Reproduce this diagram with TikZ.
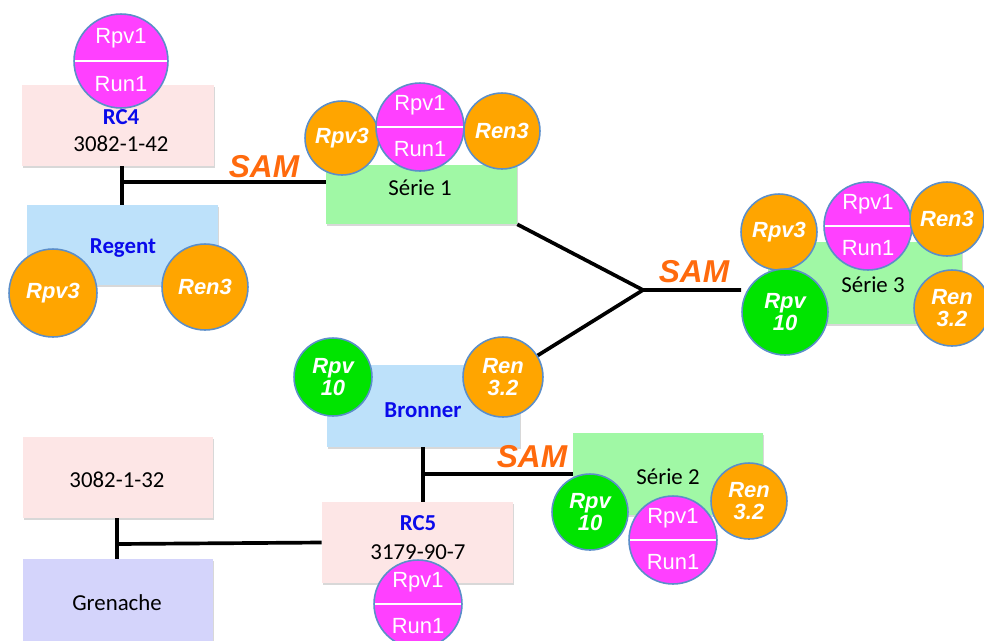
\documentclass[tikz,border=0pt]{standalone}
\usepackage{fontspec}
\setmainfont{Carlito}
\newfontfamily\arialf{Liberation Sans}
\usetikzlibrary{shadows}
\definecolor{pinkbox}{RGB}{253,230,230}
\definecolor{bluebox}{RGB}{189,225,250}
\definecolor{greenbox}{RGB}{160,248,165}
\definecolor{lavbox}{RGB}{212,212,251}
\definecolor{orng}{RGB}{255,165,0}
\definecolor{grn}{RGB}{0,228,0}
\definecolor{mgnt}{RGB}{255,64,255}
\definecolor{cborder}{RGB}{91,142,201}
\definecolor{samcol}{RGB}{255,106,13}
\definecolor{lblblue}{RGB}{10,10,235}
\pgfdeclarelayer{boxes}
\pgfdeclarelayer{links}
\pgfsetlayers{boxes,links,main}
\tikzset{
  box/.style={rectangle, draw=none, inner sep=0pt,
    drop shadow={shadow xshift=0.7pt, shadow yshift=-0.9pt, opacity=0.3}},
  boxtxt/.style={inner sep=0pt, font=\fontsize{13}{15}\selectfont, text=black},
  bluetxt/.style={inner sep=0pt, font=\fontsize{13}{15}\selectfont\bfseries, text=lblblue},
  circ/.style={circle, draw=cborder, line width=0.9pt, inner sep=0pt},
  orc/.style={circ, fill=orng, minimum size=#1*0.04cm, text=white, align=center,
    font=\arialf\bfseries\itshape\fontsize{12.5}{13}\selectfont},
  grc/.style={circ, fill=grn, minimum size=#1*0.04cm, text=white, align=center,
    font=\arialf\bfseries\itshape\fontsize{12.5}{13}\selectfont},
  magc/.style={circ, fill=mgnt, minimum size=#1*0.04cm},
  magtxt/.style={inner sep=0pt, text=white, font=\arialf\fontsize{12.5}{13}\selectfont},
  samlbl/.style={inner sep=0pt, text=samcol, font=\arialf\bfseries\itshape\fontsize{18}{20}\selectfont},
  link/.style={draw=black, line width=2.1pt}
}
\newcommand{\magcirc}[4]{%
  \node[magc=#4] (#1) at (#2,#3) {};
  \draw[white, line width=1.6pt] ([xshift=1pt]#1.west) -- ([xshift=-1pt]#1.east);
  \node[magtxt] (#1-a) at ([yshift=#4*0.0098cm]#1.center) {Rpv1};
  \node[magtxt] (#1-b) at ([yshift=-#4*0.0098cm]#1.center) {Run1};
}
\begin{document}
\begin{tikzpicture}[x=0.02cm, y=-0.02cm]
\useasboundingbox (0,0) rectangle (984,640);

% boxes
\begin{pgfonlayer}{boxes}
\fill[white] (0,0) rectangle (984,640);
\node[box, fill=pinkbox, minimum width=3.84cm, minimum height=1.62cm] (rc4) at (118,125.5) {};
\node[box, fill=bluebox, minimum width=3.82cm, minimum height=1.6cm] (regent) at (122.5,245) {};
\node[box, fill=greenbox, minimum width=3.82cm, minimum height=1.18cm] (serie1) at (421.5,194.5) {};
\node[box, fill=greenbox, minimum width=3.88cm, minimum height=1.64cm] (serie3) at (865,283) {};
\node[box, fill=bluebox, minimum width=3.86cm, minimum height=1.64cm] (bronner) at (423.5,406) {};
\node[box, fill=greenbox, minimum width=3.8cm, minimum height=1.64cm] (serie2) at (668,474) {};
\node[box, fill=pinkbox, minimum width=3.82cm, minimum height=1.62cm] (rc5) at (417.5,542.5) {};
\node[box, fill=pinkbox, minimum width=3.8cm, minimum height=1.62cm] (g32) at (118,477.5) {};
\node[box, fill=lavbox, minimum width=3.8cm, minimum height=1.82cm] (gren) at (118,604.5) {};
\end{pgfonlayer}

% box texts
\node[bluetxt] (rc4-a) at (121,117) {RC4};
\node[boxtxt] (rc4-b) at (121,144) {3082-1-42};
\node[bluetxt] (regent-t) at (123,248) {Regent};
\node[boxtxt] (serie1-t) at (420,188) {Série 1};
\node[boxtxt] (serie3-t) at (873,285) {Série 3};
\node[bluetxt] (bronner-t) at (423,410) {Bronner};
\node[boxtxt] (serie2-t) at (668,477) {Série 2};
\node[bluetxt] (rc5-a) at (418,523) {RC5};
\node[boxtxt] (rc5-b) at (418,552) {3179-90-7};
\node[boxtxt] (g32-t) at (117,480) {3082-1-32};
\node[boxtxt] (gren-t) at (117,603) {Grenache};

% circles
\magcirc{rc4m}{121}{61}{47}
\node[orc=44] (regrpv3) at (53,293) {Rpv3};
\node[orc=43] (regren3) at (205,287) {Ren3};

\node[orc=37] (s1rpv3) at (342,138) {Rpv3};
\magcirc{s1m}{420}{127}{44}
\node[orc=38] (s1ren3) at (502,131) {Ren3};

\node[orc=38] (s3rpv3) at (779,232) {Rpv3};
\magcirc{s3m}{868}{226}{44}
\node[orc=37] (s3ren3) at (947,219) {Ren3};
\node[grc=43] (s3rpv10) at (785,312) {Rpv\\10};
\node[orc=38] (s3ren32) at (952,308) {Ren\\3.2};

\node[grc=39] (brrpv10) at (333,377) {Rpv\\10};
\node[orc=40] (bren32) at (503,377) {Ren\\3.2};

\node[grc=38] (s2rpv10) at (590,512) {Rpv\\10};
\magcirc{s2m}{673}{540}{44}
\node[orc=38] (s2ren32) at (749,501) {Ren\\3.2};

\magcirc{rc5m}{418}{604}{44}

% SAM labels
\node[samlbl] (sam1) at (264,167) {SAM};
\node[samlbl] (sam2) at (694,272) {SAM};
\node[samlbl] (sam3) at (532,457) {SAM};

% links
\begin{pgfonlayer}{links}
\coordinate (j1) at (122,182);
\draw[link] (j1 |- rc4.south) -- (j1 |- regent.north);
\draw[link] (j1) -- (j1 -| serie1.west);
\coordinate (j2) at (643,290);
\draw[link] (serie1.south east) -- (j2) -- (j2 -| s3rpv10.west);
\draw[link] (j2) -- (bren32);
\coordinate (j3) at (423,474);
\draw[link] (j3 |- bronner.south) -- (j3 |- rc5.north);
\draw[link] (j3) -- (j3 -| serie2.west);
\coordinate (j4) at (117,544);
\draw[link] (j4 |- g32.south) -- (j4 |- gren.north);
\draw[link] (j4) -- (rc5.west);
\end{pgfonlayer}
\end{tikzpicture}
\end{document}
